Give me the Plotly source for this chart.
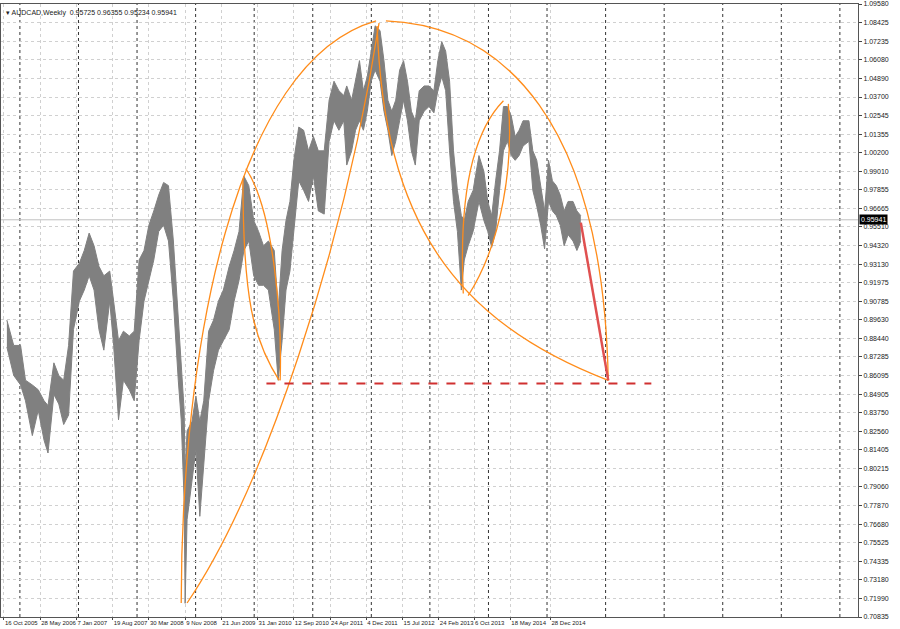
import plotly.graph_objects as go

weeks = [3,10,17,22,29,35,41,45,51,56,61,66,71,77,82,87,92,97,102,108,112,117,122,128,133,138,143,148,153,158,163,168,173,178,181,184,185,187,192,196,200,204,209,214,219,224,230,235,240,245,250,255,260,265,270,276,280,284,288,292,296,301,306,311,316,321,327,332,337,342,347,350,355,359,363,367,371,375,379,384,388,392,396,400,404,408,412,416,420,424,429,434,439,443,447,451,455,459,463,467,470,474,479,485,490,494,498,502,506,510,514,518,522,526,530,536,540,544,548,552,556,560,564,568,572,576,581,585,589]
highs = [0.896,0.880,0.880,0.858,0.855,0.852,0.845,0.842,0.869,0.861,0.858,0.880,0.927,0.932,0.940,0.951,0.943,0.930,0.924,0.927,0.908,0.883,0.889,0.886,0.889,0.934,0.940,0.956,0.965,0.975,0.983,0.981,0.946,0.896,0.870,0.839,0.800,0.826,0.832,0.848,0.832,0.845,0.889,0.896,0.908,0.915,0.930,0.940,0.952,0.987,0.981,0.959,0.952,0.943,0.946,0.940,0.902,0.940,0.959,0.971,0.997,1.018,1.016,1.003,1.012,1.003,1.003,1.035,1.047,1.041,1.038,1.044,1.035,1.047,1.060,1.041,1.050,1.066,1.082,1.079,1.060,1.035,1.028,1.035,1.054,1.060,1.047,1.028,1.022,1.041,1.044,1.044,1.041,1.060,1.072,1.066,1.047,1.003,0.978,0.962,0.959,0.971,0.978,1.000,0.990,0.971,0.962,0.984,1.003,1.031,1.031,1.025,1.012,1.016,1.022,1.022,1.003,0.997,0.981,0.965,0.997,0.984,0.981,0.975,0.965,0.971,0.971,0.965,0.962]
lows = [0.879,0.861,0.855,0.845,0.823,0.839,0.820,0.812,0.849,0.843,0.830,0.836,0.890,0.908,0.915,0.924,0.915,0.890,0.877,0.908,0.880,0.833,0.858,0.852,0.845,0.883,0.908,0.921,0.934,0.952,0.956,0.946,0.908,0.858,0.833,0.782,0.717,0.770,0.795,0.814,0.772,0.807,0.845,0.864,0.877,0.883,0.890,0.908,0.921,0.940,0.946,0.924,0.918,0.918,0.915,0.890,0.858,0.883,0.915,0.927,0.952,0.984,0.978,0.971,0.987,0.965,0.963,1.009,1.022,1.016,1.022,0.994,1.003,1.016,1.022,1.016,1.028,1.047,1.054,1.047,1.028,1.016,1.000,1.009,1.022,1.035,1.022,1.003,0.994,1.022,1.028,1.031,1.027,1.041,1.050,1.041,1.003,0.971,0.952,0.915,0.934,0.943,0.952,0.971,0.959,0.952,0.942,0.952,0.978,1.003,1.009,1.000,0.997,1.000,1.006,1.009,0.978,0.968,0.956,0.941,0.971,0.965,0.962,0.956,0.943,0.950,0.946,0.940,0.946]

tick_pos = [0,37,74,111,148,185,222,259,296,333,370,407,444,480,517,558]
tick_dates = ["16 Oct 2005","28 May 2006","7 Jan 2007","19 Aug 2007","30 Mar 2008","9 Nov 2008","21 Jun 2009","31 Jan 2010","12 Sep 2010","24 Apr 2011","4 Dec 2011","15 Jul 2012","24 Feb 2013","6 Oct 2013","18 May 2014","28 Dec 2014"]
price_ticks = [1.09580,1.08425,1.07235,1.06080,1.04890,1.03700,1.02545,1.01355,1.00200,0.99010,0.97855,0.96665,0.95510,0.94320,0.93130,0.91975,0.90785,0.89630,0.88440,0.87285,0.86095,0.84905,0.83750,0.82560,0.81405,0.80215,0.79060,0.77870,0.76680,0.75525,0.74335,0.73180,0.71990,0.70835]
last_price = 0.95941

# annotation curves (bar index, price) : start, ctrl1, ctrl2, end
arcs = [
    [(181,0.7172),(181,0.8768),(235,1.0598),(380,1.0851)],
    [(187,0.7172),(265,0.7885),(347,0.9399),(383,1.0838)],
    [(244,0.9854),(244,0.9084),(255,0.8831),(281,0.8579)],
    [(247,0.9917),(276,0.9652),(284,0.8958),(282,0.8579)],
    [(390,1.0851),(510,1.0819),(612,1.0220),(617,0.8579)],
    [(381,1.0819),(388,0.9589),(459,0.8958),(617,0.8579)],
    [(469,0.9128),(464,0.9778),(480,1.0157),(510,1.0346)],
    [(474,0.9115),(510,0.9463),(520,0.9967),(515,1.0327)],
]
red_line = [(589,0.9576),(617,0.8579)]
support = [(268,0.856),(661,0.856)]

fig = go.Figure()
fig.add_trace(go.Scatter(x=weeks, y=lows, mode="lines", line=dict(color="#808080", width=1), hoverinfo="skip"))
fig.add_trace(go.Scatter(x=weeks, y=highs, mode="lines", line=dict(color="#808080", width=1), fill="tonexty", fillcolor="#808080", hoverinfo="skip"))

shapes = []
for k in range(-3, 20):
    wx = 16.3 + 59.8 * k
    if -3 < wx < 872:
        shapes.append(dict(type="line", xref="x", yref="paper", x0=wx, x1=wx, y0=0, y1=1, line=dict(color="#333", width=1, dash="dot"), layer="below"))
for a in arcs:
    p = "M{},{} C{},{} {},{} {},{}".format(*[v for pt in a for v in pt])
    shapes.append(dict(type="path", xref="x", yref="y", path=p, line=dict(color="#ff8c1a", width=1.3)))
shapes.append(dict(type="line", xref="x", yref="y", x0=red_line[0][0], y0=red_line[0][1], x1=red_line[1][0], y1=red_line[1][1], line=dict(color="#e05050", width=2.5)))
shapes.append(dict(type="line", xref="x", yref="y", x0=support[0][0], y0=support[0][1], x1=support[1][0], y1=support[1][1], line=dict(color="#d03030", width=2, dash="dash")))
shapes.append(dict(type="line", xref="paper", yref="y", x0=0, x1=1, y0=last_price, y1=last_price, line=dict(color="#c0c0c0", width=1), layer="below"))

fig.update_layout(
    width=900, height=629, margin=dict(l=1, r=42, t=4, b=12),
    plot_bgcolor="white", paper_bgcolor="white", showlegend=False,
    font=dict(family="Liberation Sans", size=7, color="#222"),
    shapes=shapes,
    annotations=[
        dict(xref="paper", yref="paper", x=0.003, y=0.995, xanchor="left", yanchor="top", showarrow=False,
             text="▾ AUDCAD,Weekly  0.95725 0.96355 0.95234 0.95941", font=dict(size=7, color="#222")),
        dict(xref="paper", yref="y", x=1.0, y=last_price, xanchor="left", showarrow=False, xshift=1,
             text="0.95941", bgcolor="black", font=dict(color="white", size=7), borderpad=1),
    ],
    xaxis=dict(range=[-3, 872], tickvals=tick_pos, ticktext=tick_dates, ticklabelposition="outside right",
               tickangle=0, automargin=False,
               showgrid=True, gridcolor="#d0d0d0", griddash="dot", showline=True, linecolor="#555", mirror=True,
               ticks="outside", ticklen=2, zeroline=False, tickfont=dict(size=6)),
    yaxis=dict(range=[0.70835, 1.0958], side="right", tickvals=price_ticks, ticktext=[f"{v:.5f}" for v in price_ticks],
               automargin=False,
               showgrid=True, gridcolor="#d0d0d0", griddash="dot", showline=True, linecolor="#555", mirror=True,
               ticks="outside", ticklen=3, zeroline=False, tickfont=dict(size=7)),
)
fig.write_html("out.html", config={"displayModeBar": False},
               post_script="document.body.style.margin='0';document.body.style.overflow='hidden';")
